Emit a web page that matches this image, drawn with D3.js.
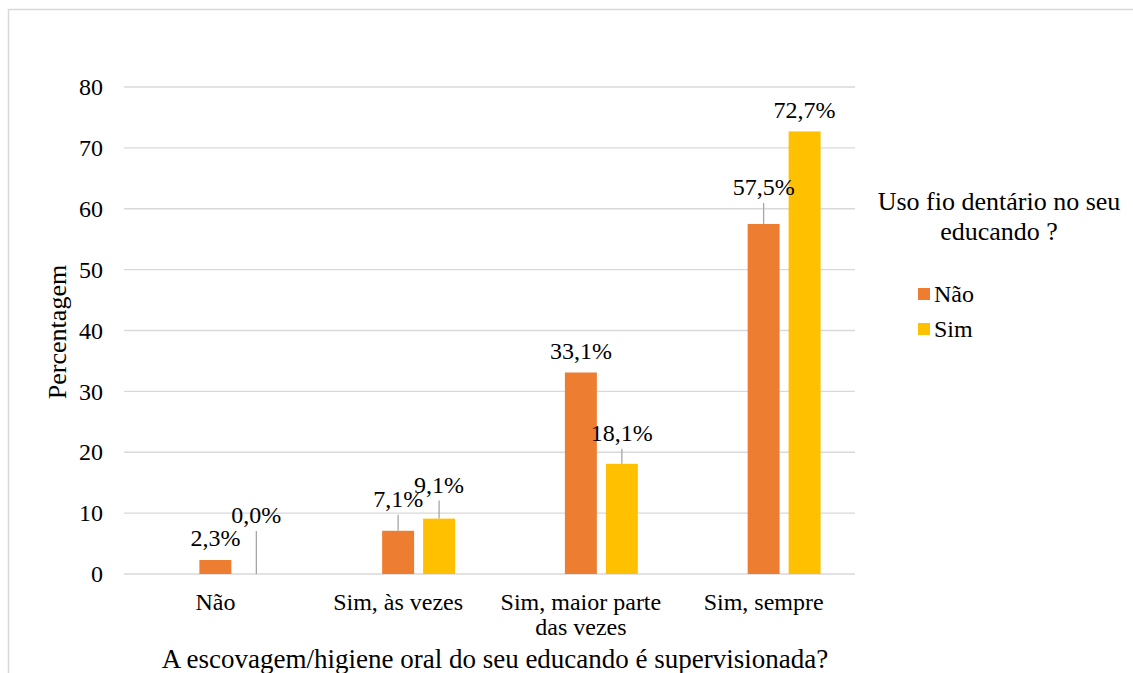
<!DOCTYPE html>
<html>
<head>
<meta charset="utf-8">
<script src="https://cdn.jsdelivr.net/npm/d3@7"></script>
<style>
  body { margin: 0; background: #fff; }
</style>
</head>
<body>
<div id="chart"></div>
<script>
// data
var categories = ["Não", "Sim, às vezes", "Sim, maior parte|das vezes", "Sim, sempre"];
var seriesNames = ["Não", "Sim"];
var naoValues = [2.3, 7.1, 33.1, 57.5];
var simValues = [0.0, 9.1, 18.1, 72.7];
var yTicks = [0, 10, 20, 30, 40, 50, 60, 70, 80];
// extra lift (px) of labels that were dragged up with a leader line
var naoLift = [0, 10, 0, 15];
var simLift = [37, 12, 9, 0];

var FONT = "'Liberation Serif'";

var svgWidth = 1133;
var svgHeight = 673;

var svg = d3.select("#chart")
  .append("svg")
  .attr("width", svgWidth)
  .attr("height", svgHeight);

// chart area border (right and bottom fall outside the picture)
svg.append("rect")
  .attr("x", 8.5).attr("y", 9.5)
  .attr("width", 1140).attr("height", 680)
  .attr("fill", "none")
  .attr("stroke", "#d9d9d9")
  .attr("stroke-width", 1.5);

var plot = { left: 124, right: 855, top: 87, bottom: 574 };

var x0 = d3.scaleBand()
  .domain(categories)
  .range([plot.left, plot.right]);

// the first slot is an empty series, as in the original
var x1 = d3.scaleBand()
  .domain(["", "Não", "Sim"])
  .range([0, x0.bandwidth()])
  .paddingInner(0.22)
  .paddingOuter(0.84);

var y = d3.scaleLinear()
  .domain([0, 80])
  .range([plot.bottom, plot.top]);

var color = d3.scaleOrdinal()
  .domain(seriesNames)
  .range(["#ED7D31", "#FFC000"]);

// gridlines
svg.append("g")
  .selectAll("line")
  .data(yTicks)
  .enter()
  .append("line")
  .attr("x1", plot.left)
  .attr("x2", plot.right)
  .attr("y1", d => y(d))
  .attr("y2", d => y(d))
  .attr("stroke", "#d9d9d9")
  .attr("stroke-width", 1.3);

// y axis labels
var yAxis = d3.axisLeft(y).tickValues(yTicks).tickSize(0).tickPadding(0);
var yG = svg.append("g")
  .attr("transform", `translate(${plot.left - 21}, 0)`)
  .call(yAxis);
yG.select(".domain").remove();
yG.attr("font-family", null);
yG.selectAll("text")
  .style("font-family", FONT)
  .style("font-size", "24px")
  .attr("fill", "#000");

// x axis labels
var xG = svg.append("g")
  .attr("transform", `translate(0, ${plot.bottom})`)
  .call(d3.axisBottom(x0).tickSize(0).tickFormat(""));
xG.select(".domain").remove();
xG.attr("font-family", null);
xG.selectAll(".tick").each(function(d) {
  var lines = d.split("|");
  var t = d3.select(this).append("text")
    .attr("text-anchor", "middle")
    .attr("fill", "#000")
    .style("font-family", FONT)
    .style("font-size", "24px")
    .attr("y", 36);
  lines.forEach(function(l, i) {
    t.append("tspan").attr("x", 0).attr("dy", i === 0 ? 0 : 25).text(l);
  });
});

// bars
var rows = categories.map(function(c, i) {
  return [
    { cat: c, name: "Não", value: naoValues[i], lift: naoLift[i] },
    { cat: c, name: "Sim", value: simValues[i], lift: simLift[i] }
  ];
});

var groups = svg.append("g")
  .selectAll("g")
  .data(rows)
  .enter()
  .append("g")
  .attr("transform", (d, i) => `translate(${x0(categories[i])}, 0)`);

groups.selectAll("rect")
  .data(d => d)
  .enter()
  .append("rect")
  .attr("x", d => x1(d.name))
  .attr("y", d => y(d.value))
  .attr("width", x1.bandwidth())
  .attr("height", d => y(0) - y(d.value))
  .attr("fill", d => color(d.name));

// leader lines for moved labels
groups.selectAll("line.leader")
  .data(d => d.filter(e => e.lift > 0))
  .enter()
  .append("line")
  .attr("class", "leader")
  .attr("x1", d => x1(d.name) + x1.bandwidth() / 2)
  .attr("x2", d => x1(d.name) + x1.bandwidth() / 2)
  .attr("y1", d => y(d.value) - 22 - d.lift + 16)
  .attr("y2", d => y(d.value))
  .attr("stroke", "#a6a6a6")
  .attr("stroke-width", 1.3);

// data labels
groups.selectAll("text.lbl")
  .data(d => d)
  .enter()
  .append("text")
  .attr("class", "lbl")
  .attr("x", d => x1(d.name) + x1.bandwidth() / 2)
  .attr("y", d => y(d.value) - 22 - d.lift)
  .attr("dy", "0.35em")
  .attr("text-anchor", "middle")
  .style("font-family", FONT)
  .style("font-size", "24px")
  .text(d => d.value.toFixed(1).replace(".", ",") + "%");

// axis titles
svg.append("text")
  .attr("transform", "translate(66, 332) rotate(-90)")
  .attr("text-anchor", "middle")
  .style("font-family", FONT)
  .style("font-size", "26px")
  .text("Percentagem");

svg.append("text")
  .attr("x", 495)
  .attr("y", 668)
  .attr("text-anchor", "middle")
  .style("font-family", FONT)
  .style("font-size", "27px")
  .text("A escovagem/higiene oral do seu educando é supervisionada?");

// legend
var legend = svg.append("g");
legend.append("text")
  .attr("x", 999).attr("y", 210)
  .attr("text-anchor", "middle")
  .style("font-family", FONT)
  .style("font-size", "26px")
  .text("Uso fio dentário no seu");
legend.append("text")
  .attr("x", 999).attr("y", 240)
  .attr("text-anchor", "middle")
  .style("font-family", FONT)
  .style("font-size", "26px")
  .text("educando ?");

var items = legend.selectAll("g.item")
  .data(seriesNames)
  .enter()
  .append("g")
  .attr("class", "item")
  .attr("transform", (d, i) => `translate(918, ${288 + i * 35})`);
items.append("rect")
  .attr("width", 12).attr("height", 12)
  .attr("fill", d => color(d));
items.append("text")
  .attr("x", 16).attr("y", 6)
  .attr("dy", "0.35em")
  .style("font-family", FONT)
  .style("font-size", "24px")
  .text(d => d);
</script>
</body>
</html>
